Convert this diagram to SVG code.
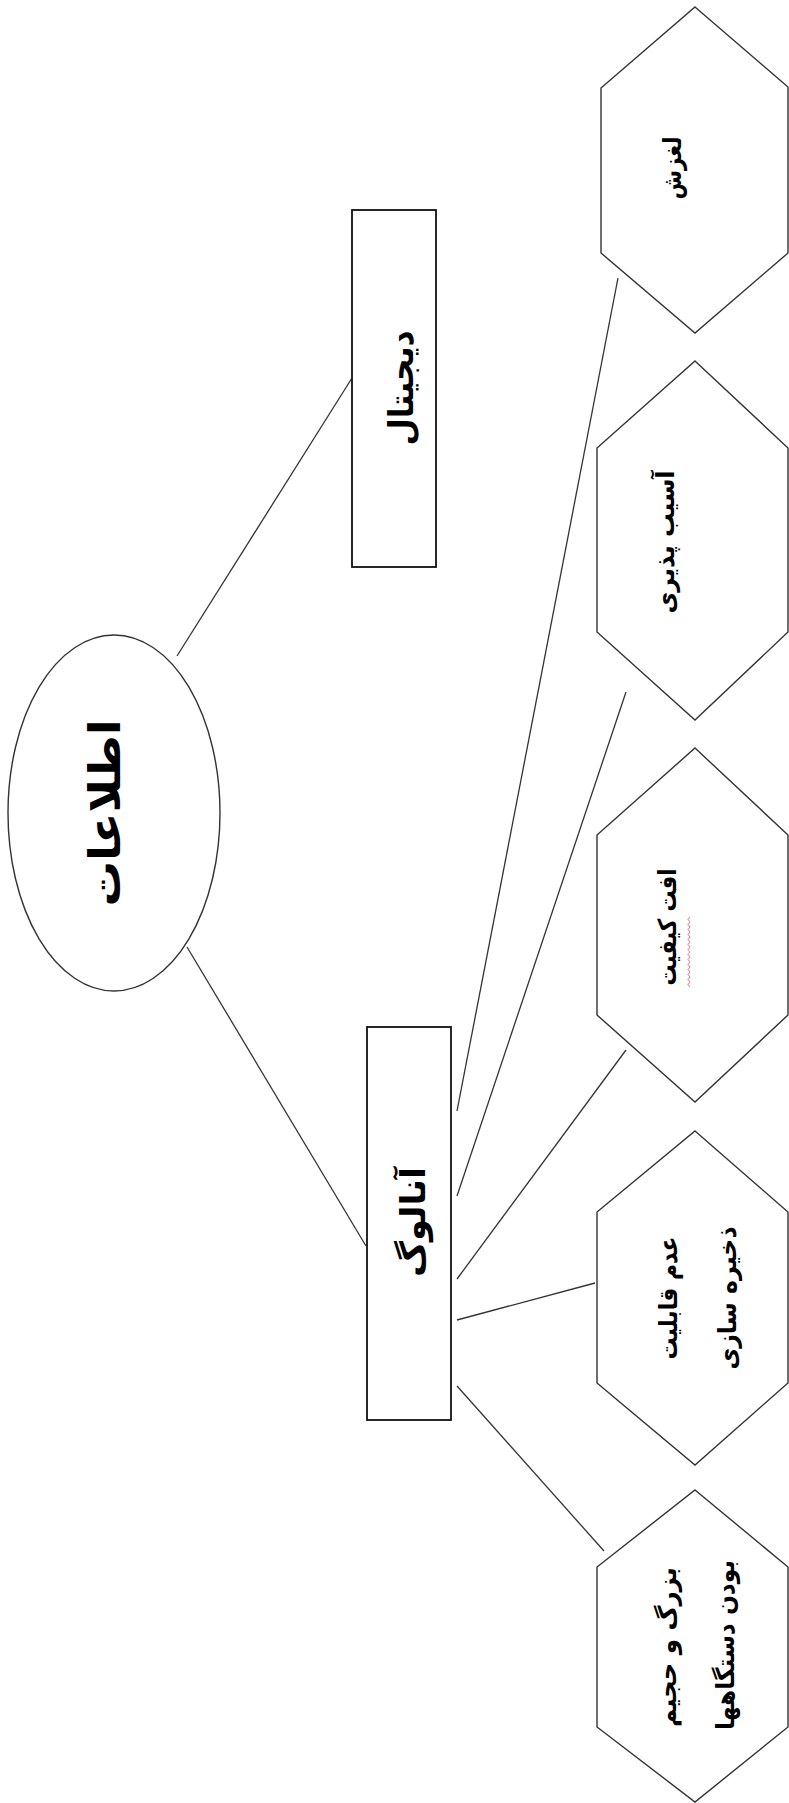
<svg xmlns="http://www.w3.org/2000/svg" width="789" height="1803" viewBox="0 0 789 1803">
<style>
.bg{fill:#ffffff}
.shape{fill:#ffffff;stroke:#333333;stroke-width:1.4}
.box{fill:#ffffff;stroke:#111111;stroke-width:1.8}
.conn line{stroke:#333333;stroke-width:1.3}
.t{font-family:"DejaVu Sans","Noto Sans",sans-serif;font-weight:bold;fill:#000000;text-anchor:middle;dominant-baseline:central}
</style>
<rect class="bg" x="0" y="0" width="789" height="1803"/>
<g id="connectors" class="conn">
<line x1="177" y1="656" x2="352" y2="378"/>
<line x1="187" y1="947" x2="366" y2="1246"/>
<line x1="457" y1="1111" x2="618" y2="278"/>
<line x1="457" y1="1196" x2="626" y2="692"/>
<line x1="457" y1="1279" x2="626" y2="1050"/>
<line x1="457" y1="1320" x2="595" y2="1283"/>
<line x1="457" y1="1386" x2="604" y2="1551"/>
</g>
<g id="node-information">
<ellipse class="shape" cx="114" cy="813" rx="106" ry="178"/>
<text class="t" font-size="44" textLength="187" lengthAdjust="spacingAndGlyphs" transform="translate(104,813) rotate(-90)">اطلاعات</text>
</g>
<g id="node-digital">
<rect class="box" x="352" y="210" width="84" height="357"/>
<text class="t" font-size="34" textLength="115" lengthAdjust="spacingAndGlyphs" transform="translate(401,388) rotate(-90)">دیجیتال</text>
</g>
<g id="node-analog">
<rect class="box" x="367" y="1027" width="84" height="393"/>
<text class="t" font-size="34" textLength="110" lengthAdjust="spacingAndGlyphs" transform="translate(413,1222) rotate(-90)">آنالوگ</text>
</g>
<g id="node-slip">
<polygon class="shape" points="695,7 788,87 788,253 695,333 601,253 601,88"/>
<text class="t" font-size="25" textLength="63" lengthAdjust="spacingAndGlyphs" transform="translate(672,168) rotate(-90)">لغزش</text>
</g>
<g id="node-vulnerability">
<polygon class="shape" points="695,361 788,448 788,632 695,720 597,632 597,448"/>
<text class="t" font-size="25" textLength="143" lengthAdjust="spacingAndGlyphs" transform="translate(665,542) rotate(-90)">آسیب پذیری</text>
</g>
<g id="node-quality-loss">
<polygon class="shape" points="695,748 788,835 788,1015 695,1102 597,1015 597,835"/>
<text class="t" font-size="25" textLength="117" lengthAdjust="spacingAndGlyphs" transform="translate(667,927) rotate(-90)">افت کیفیت</text>
<polyline fill="none" stroke="#e0607a" stroke-width="0.9" points="690,917 688,919.5 690,922 688,924.5 690,927 688,929.5 690,932 688,934.5 690,937 688,939.5 690,942 688,944.5 690,947 688,949.5 690,952 688,954.5 690,957 688,959.5 690,962 688,964.5 690,967 688,969.5 690,972 688,974.5 690,977 688,979.5 690,982 688,984.5 690,987"/>
</g>
<g id="node-no-storage">
<polygon class="shape" points="695,1131 788,1212 788,1383 695,1465 597,1383 597,1212"/>
<text class="t" font-size="25" textLength="123" lengthAdjust="spacingAndGlyphs" transform="translate(668,1298) rotate(-90)">عدم قابلیت</text>
<text class="t" font-size="25" textLength="143" lengthAdjust="spacingAndGlyphs" transform="translate(727,1298) rotate(-90)">ذخیره سازی</text>
</g>
<g id="node-bulky">
<polygon class="shape" points="695,1490 788,1567 788,1727 695,1802 597,1727 597,1567"/>
<text class="t" font-size="25" textLength="160" lengthAdjust="spacingAndGlyphs" transform="translate(667,1647) rotate(-90)">بزرگ و حجیم</text>
<text class="t" font-size="25" textLength="170" lengthAdjust="spacingAndGlyphs" transform="translate(725,1645) rotate(-90)">بودن دستگاهها</text>
</g>
</svg>
